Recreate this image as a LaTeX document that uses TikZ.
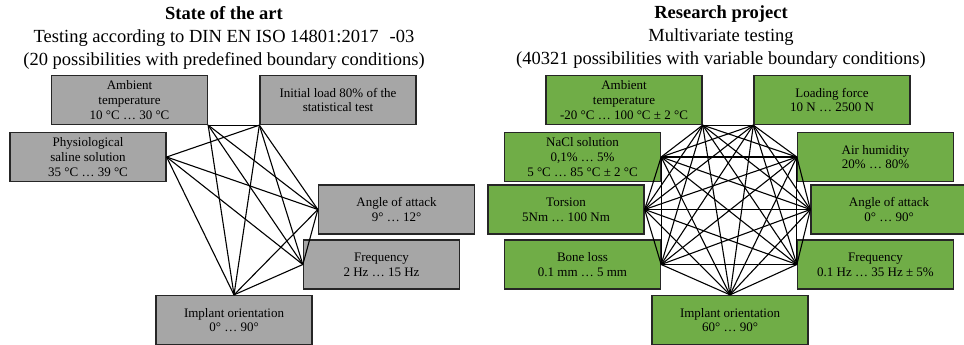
\documentclass[tikz,border=0pt]{standalone}
\usepackage{fontspec}
\setmainfont{Liberation Serif}
\usetikzlibrary{positioning}
\definecolor{boxgrey}{RGB}{166,166,166}
\definecolor{boxgreen}{RGB}{112,173,71}
\tikzset{
  greybox/.style={rectangle, draw=black!85, line width=1.3pt, fill=boxgrey, minimum width=156pt, minimum height=49pt, inner sep=1pt, align=center, font=\fontsize{13}{14.8}\selectfont},
  greenbox/.style={greybox, fill=boxgreen},
  link/.style={black, line width=1.1pt},
  heading/.style={align=center, font=\fontsize{18.5}{23}\selectfont}
}
\begin{document}
\begin{tikzpicture}[x=1pt, y=-1pt]
    \useasboundingbox (0, 0) rectangle (964, 345);

    % state of the art
    \node[heading] (ltitle) at (224, 37.5) {\textbf{State of the art}\\Testing according to DIN EN ISO 14801:2017\hspace{0.6em}-03\\(20 possibilities with predefined boundary conditions)};

    \node[greybox] (lamb) at (129.5, 100) {Ambient\\temperature\\10 °C … 30 °C};
    \node[greybox] (linit) at (338, 100) {Initial load 80\% of the\\statistical test};
    \node[greybox] (lphys) at (88, 157) {Physiological\\saline solution\\35 °C … 39 °C};
    \node[greybox] (langle) at (396.5, 209.5) {Angle of attack\\9° … 12°};
    \node[greybox] (lfreq) at (381.5, 264.5) {Frequency\\2 Hz … 15 Hz};
    \node[greybox] (limpl) at (234, 320) {Implant orientation\\0° … 90°};

    \draw[link] (lamb.south east) -- (linit.south west);
    \draw[link] (lamb.south east) -- (langle.west);
    \draw[link] (lamb.south east) -- (lfreq.west);
    \draw[link] (lamb.south east) -- (limpl.north);
    \draw[link] (linit.south west) -- (lphys.east);
    \draw[link] (linit.south west) -- (langle.west);
    \draw[link] (linit.south west) -- (lfreq.west);
    \draw[link] (linit.south west) -- (limpl.north);
    \draw[link] (lphys.east) -- (langle.west);
    \draw[link] (lphys.east) -- (lfreq.west);
    \draw[link] (lphys.east) -- (limpl.north);
    \draw[link] (langle.west) -- (lfreq.west);
    \draw[link] (langle.west) -- (limpl.north);
    \draw[link] (lfreq.west) -- (limpl.north);

    % research project
    \node[heading] (rtitle) at (721, 37.5) {\textbf{Research project}\\Multivariate testing\\(40321 possibilities with variable boundary conditions)};

    \node[greenbox] (ramb) at (624, 100) {Ambient\\temperature\\-20 °C … 100 °C ± 2 °C};
    \node[greenbox] (rload) at (832, 100) {Loading force\\10 N … 2500 N};
    \node[greenbox] (rnacl) at (582.5, 157) {NaCl solution\\0,1\% … 5\%\\5 °C … 85 °C ± 2 °C};
    \node[greenbox] (rair) at (875.5, 157) {Air humidity\\20\% … 80\%};
    \node[greenbox] (rtors) at (566, 209.5) {Torsion\\5Nm … 100 Nm};
    \node[greenbox] (rangle) at (889, 209.5) {Angle of attack\\0° … 90°};
    \node[greenbox] (rbone) at (582.5, 264.5) {Bone loss\\0.1 mm … 5 mm};
    \node[greenbox] (rfreq) at (875.5, 264.5) {Frequency\\0.1 Hz … 35 Hz ± 5\%};
    \node[greenbox] (rimpl) at (730, 320) {Implant orientation\\60° … 90°};

    \draw[link] (ramb.south east) -- (rload.south west);
    \draw[link] (ramb.south east) -- (rnacl.east);
    \draw[link] (ramb.south east) -- (rair.west);
    \draw[link] (ramb.south east) -- (rtors.east);
    \draw[link] (ramb.south east) -- (rangle.west);
    \draw[link] (ramb.south east) -- (rbone.east);
    \draw[link] (ramb.south east) -- (rfreq.west);
    \draw[link] (ramb.south east) -- (rimpl.north);
    \draw[link] (rload.south west) -- (rnacl.east);
    \draw[link] (rload.south west) -- (rair.west);
    \draw[link] (rload.south west) -- (rtors.east);
    \draw[link] (rload.south west) -- (rangle.west);
    \draw[link] (rload.south west) -- (rbone.east);
    \draw[link] (rload.south west) -- (rfreq.west);
    \draw[link] (rload.south west) -- (rimpl.north);
    \draw[link] (rnacl.east) -- (rair.west);
    \draw[link] (rnacl.east) -- (rtors.east);
    \draw[link] (rnacl.east) -- (rangle.west);
    \draw[link] (rnacl.east) -- (rbone.east);
    \draw[link] (rnacl.east) -- (rfreq.west);
    \draw[link] (rnacl.east) -- (rimpl.north);
    \draw[link] (rair.west) -- (rtors.east);
    \draw[link] (rair.west) -- (rangle.west);
    \draw[link] (rair.west) -- (rbone.east);
    \draw[link] (rair.west) -- (rfreq.west);
    \draw[link] (rair.west) -- (rimpl.north);
    \draw[link] (rtors.east) -- (rangle.west);
    \draw[link] (rtors.east) -- (rbone.east);
    \draw[link] (rtors.east) -- (rfreq.west);
    \draw[link] (rtors.east) -- (rimpl.north);
    \draw[link] (rangle.west) -- (rbone.east);
    \draw[link] (rangle.west) -- (rfreq.west);
    \draw[link] (rangle.west) -- (rimpl.north);
    \draw[link] (rbone.east) -- (rfreq.west);
    \draw[link] (rbone.east) -- (rimpl.north);
    \draw[link] (rfreq.west) -- (rimpl.north);
\end{tikzpicture}
\end{document}
